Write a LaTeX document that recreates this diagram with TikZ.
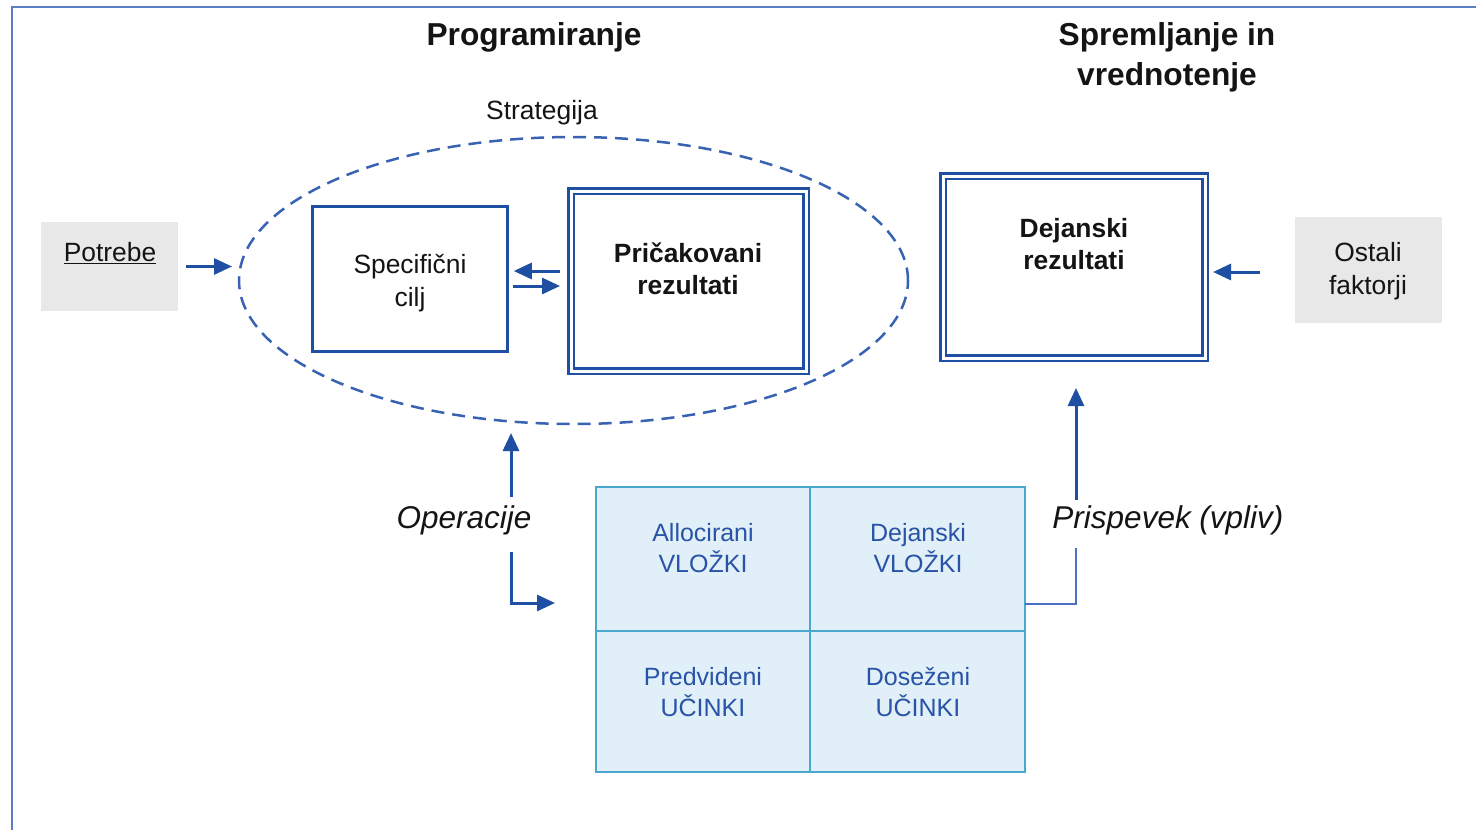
\documentclass[tikz,border=0pt]{standalone}
\usepackage{fontspec}
\setmainfont{Liberation Sans}
\usetikzlibrary{arrows.meta,shapes.geometric}
\definecolor{frameblue}{HTML}{5A7DC5}
\definecolor{dblue}{HTML}{1F4FA3}
\definecolor{eblue}{HTML}{3862B2}
\definecolor{lblue}{HTML}{4A70C0}
\definecolor{cellfill}{HTML}{E1F0F8}
\definecolor{celledge}{HTML}{4AA8CF}
\definecolor{celltext}{HTML}{2853A6}
\definecolor{greybox}{HTML}{E8E8E8}
\definecolor{ink}{HTML}{141414}
\begin{document}
\begin{tikzpicture}[x=1pt,y=-1pt,
  every node/.style={inner sep=0pt,outer sep=0pt,text=ink},
  title/.style={font=\fontsize{31.7}{40}\selectfont\bfseries,align=center},
  boxtxt/.style={font=\fontsize{26.4}{32.5}\selectfont,align=center},
  boldtxt/.style={font=\fontsize{26.4}{32.5}\selectfont\bfseries,align=center},
  itxt/.style={font=\fontsize{31.5}{38}\selectfont\itshape},
  celltxt/.style={font=\fontsize{25}{31}\selectfont,align=center,text=celltext},
  single/.style={draw=dblue,line width=3pt},
  dbl/.style={draw=dblue,line width=2.5pt,double=white,double distance=3pt},
  grey/.style={fill=greybox},
  cell/.style={fill=cellfill,draw=celledge,line width=2pt},
  arr/.style={draw=dblue,line width=3pt,-{Triangle[length=18pt,width=16pt]}},
  link/.style={draw=lblue,line width=2pt},
  strat/.style={ellipse,draw=eblue,line width=2.5pt,dash pattern=on 13pt off 8pt},
  frame/.style={draw=frameblue,line width=2.5pt}]
\fill[white] (0,0) rectangle (1476,830);
\useasboundingbox (0,0) rectangle (1476,830);
\draw[frame] (1490,7) -- (12,7) -- (12,845);

% titles
\node[title] (prog) at (534,37) {Programiranje};
\node[title] (spr) at (1167,57) {Spremljanje in\\vrednotenje};
\node[boxtxt] (stratlbl) at (542,113) {Strategija};

% strategy ellipse
\node[strat,minimum width=669pt,minimum height=287pt] (strat) at (573.5,280.5) {};

% boxes
\node[grey,minimum width=137pt,minimum height=89pt] (potb) at (109.5,266.5) {};
\node[boxtxt] (pot) at (110,253) {\underline{Potrebe}};

\node[single,minimum width=194.5pt,minimum height=145pt] (spec) at (410,279) {};
\node[boxtxt] (spect) at (410,283) {Specifični\\cilj};

\node[dbl,minimum width=235pt,minimum height=180pt] (prik) at (688.5,281) {};
\node[boldtxt] (prikt) at (688,269) {Pričakovani\\rezultati};

\node[dbl,minimum width=262pt,minimum height=182pt] (dej) at (1074,267) {};
\node[boldtxt] (dejt) at (1074,244) {Dejanski\\rezultati};

\node[grey,minimum width=147pt,minimum height=106pt] (ostb) at (1368.5,270) {};
\node[boxtxt] (ost) at (1368,271) {Ostali\\faktorji};

% grid
\node[cell,minimum width=214pt,minimum height=144pt] (c11) at (703,559) {};
\node[cell,minimum width=215pt,minimum height=144pt] (c12) at (917.5,559) {};
\node[cell,minimum width=214pt,minimum height=141pt] (c21) at (703,701.5) {};
\node[cell,minimum width=215pt,minimum height=141pt] (c22) at (917.5,701.5) {};
\node[celltxt] (t11) at (703,548) {Allocirani\\VLOŽKI};
\node[celltxt] (t12) at (918,548) {Dejanski\\VLOŽKI};
\node[celltxt] (t21) at (703,692) {Predvideni\\UČINKI};
\node[celltxt] (t22) at (918,692) {Doseženi\\UČINKI};

% labels
\node[itxt] (op) at (464,520) {Operacije};
\node[itxt] (pris) at (1168,520) {Prispevek (vpliv)};

% connectors
\draw[arr,shorten <=8pt,shorten >=7pt] (potb.east) -- (potb.east -| strat.west);
\draw[arr,shorten <=11pt,shorten >=6.5pt] ([yshift=10pt]prik.west) -- ([yshift=10pt]prik.west -| spec.east);
\draw[arr,shorten <=5.5pt,shorten >=11pt] ([yshift=-7pt]spec.east -| spec.east) -- ([yshift=-7pt]spec.east -| prik.west);
\draw[arr,shorten <=35pt,shorten >=8pt] ([yshift=-2pt]ostb.west) -- ([yshift=-2pt]ostb.west -| dej.east);

\coordinate (opup) at (511,497);
\coordinate (opdn) at (511,552);
\draw[arr,shorten >=9pt] (opup) -- (opup |- strat.south);
\draw[arr,shorten >=41pt] (opdn) |- ([yshift=-44pt]c11.west);

\coordinate (prbot) at (1076,548);
\coordinate (prtop) at (1076,500);
\draw[link] ([yshift=-45pt]c12.east) -| (prbot);
\draw[arr,shorten >=30pt] (prtop) -- (prtop |- dej.south);
\end{tikzpicture}
\end{document}
